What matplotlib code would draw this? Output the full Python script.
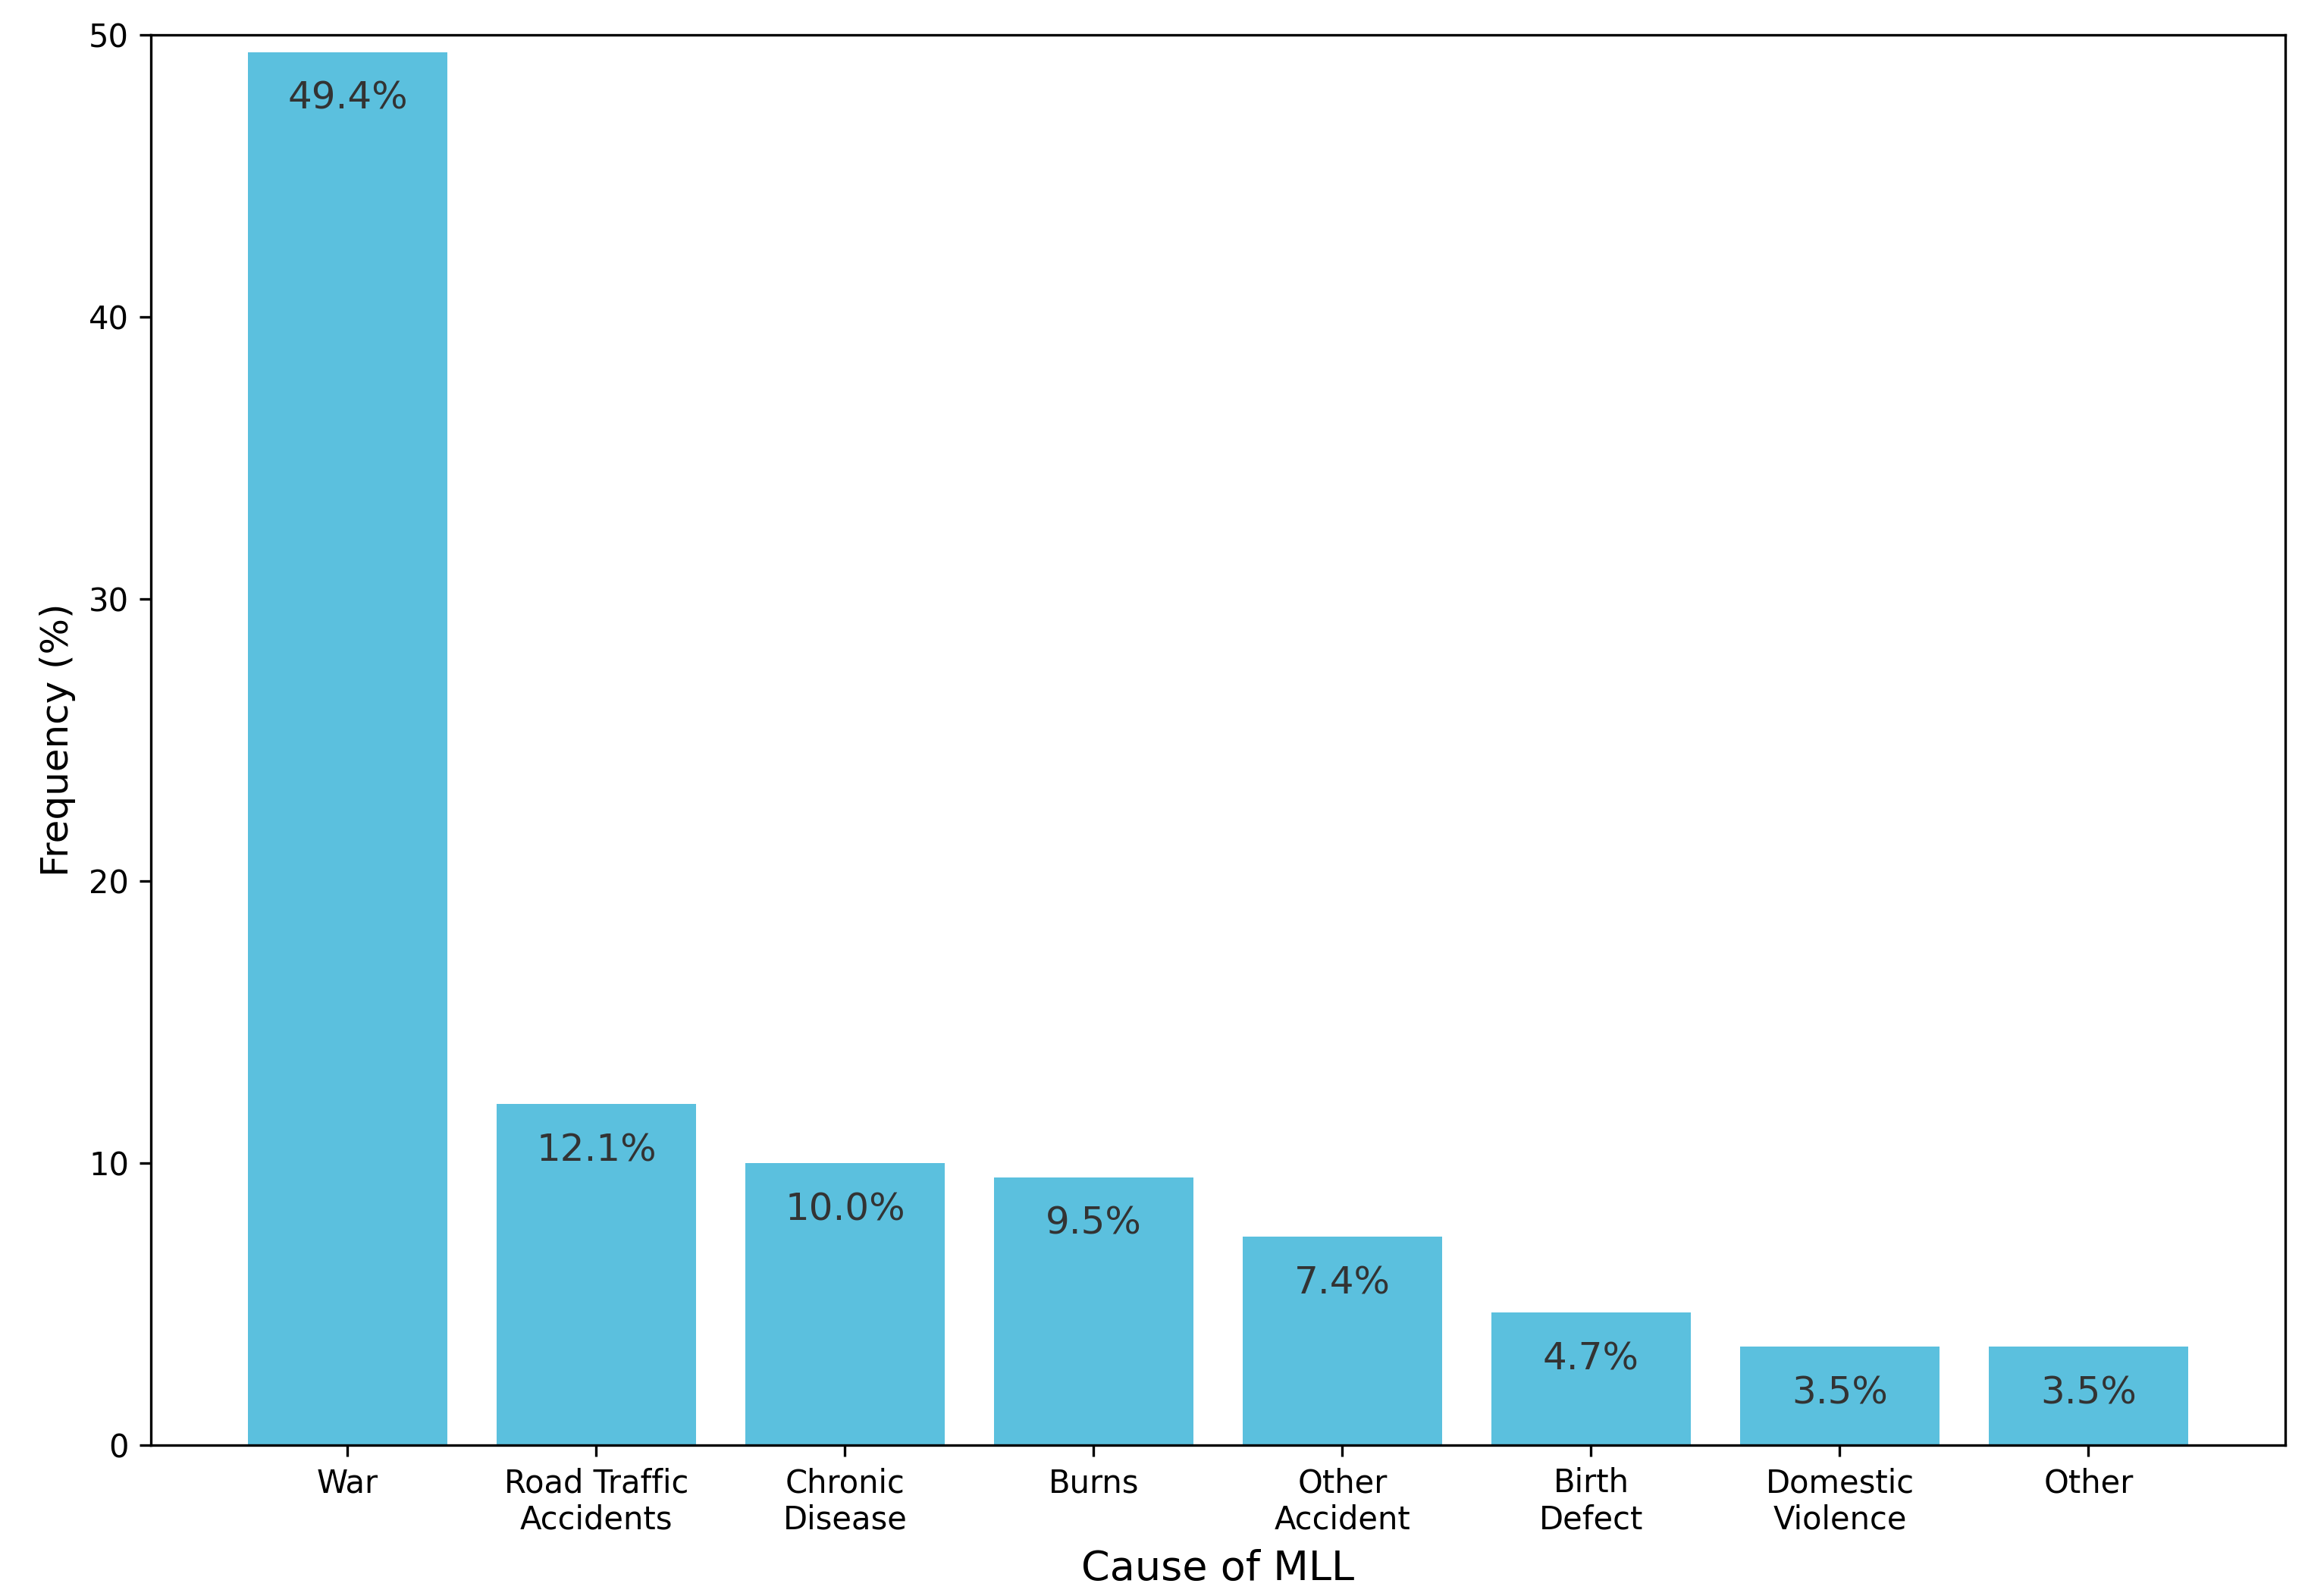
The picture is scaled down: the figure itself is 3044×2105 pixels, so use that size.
import matplotlib
matplotlib.use('Agg')
import matplotlib.pyplot as plt
import numpy as np

causes = ['War', 'Road Traffic\nAccidents', 'Chronic\nDisease', 'Burns',
          'Other\nAccident', 'Birth\nDefect', 'Domestic\nViolence', 'Other']
frequency = [49.4, 12.1, 10.0, 9.5, 7.4, 4.7, 3.5, 3.5]

bar_color = '#5BC0DE'

fig, ax = plt.subplots(figsize=(3044 / 300, 2105 / 300), dpi=300)
fig.subplots_adjust(left=0.0655, right=0.99, top=0.978, bottom=0.0945)

index = np.arange(len(causes))
ax.bar(index, frequency, 0.8, color=bar_color)

for i, v in enumerate(frequency):
    ax.text(index[i], v - 1.0, f'{v:.1f}%', ha='center', va='top',
            fontsize=12, color='#333333')

ax.set_ylim(0, 50)
ax.set_yticks(np.arange(0, 51, 10))
ax.set_xticks(index)
ax.set_xticklabels(causes, fontsize=10)
ax.tick_params(axis='y', labelsize=10)
ax.set_xlabel('Cause of MLL', fontsize=13, labelpad=4)
ax.set_ylabel('Frequency (%)', fontsize=12)

fig.savefig('out.png', dpi=300)
